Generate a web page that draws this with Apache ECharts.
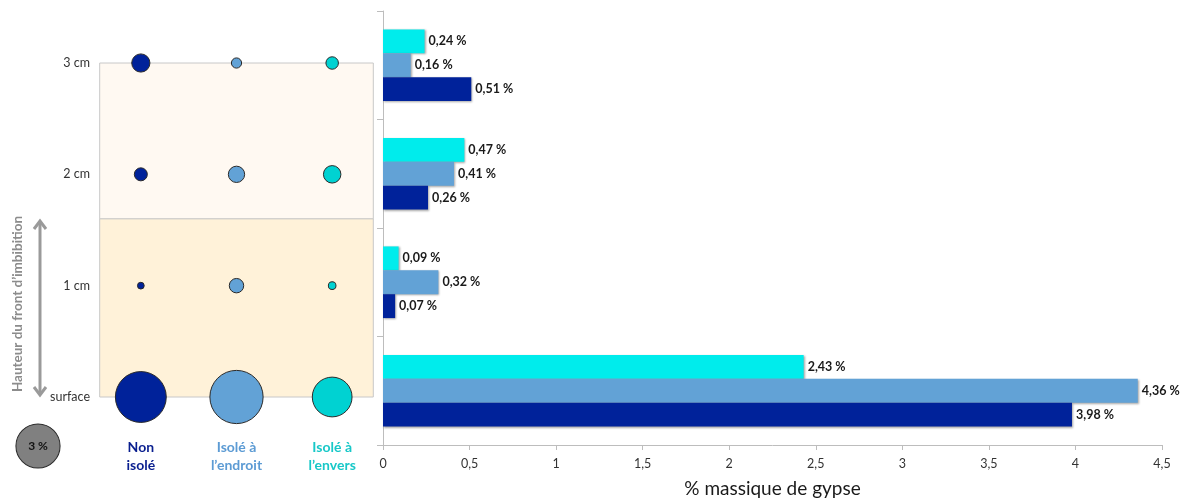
<!DOCTYPE html>
<html>
<head>
<meta charset="utf-8">
<script src="https://cdn.jsdelivr.net/npm/echarts@6/dist/echarts.min.js"></script>
<style>
  html, body { margin: 0; padding: 0; background: #fff; }
  #chart { width: 1186px; height: 503px; }
</style>
</head>
<body>
<div id="chart"></div>
<script>
// Imbibition front heights (bottom to top)
const heights = ['surface', '1 cm', '2 cm', '3 cm'];
// Sample configurations
const configs = ['Non\nisolé', 'Isolé à\nl’endroit', 'Isolé à\nl’envers'];
// Gypsum mass fraction (%) per height, one array per configuration
const nonIsole = [3.98, 0.07, 0.26, 0.51];
const isoleEndroit = [4.36, 0.32, 0.41, 0.16];
const isoleEnvers = [2.43, 0.09, 0.47, 0.24];
// Reference bubble for the size key
const keyValue = 3;
// Zone boundary between the two shaded bands (height units)
const zoneSplit = 1.6;

const FONT = 'Lato, "Open Sans", sans-serif';
const barColors = ['#00229A', '#62A2D6', '#00ECEC'];
const dotColors = ['#00229A', '#62A2D6', '#00D2D2'];
const labelColors = ['#0A1F8F', '#5C9BD4', '#18C8C8'];
const series3 = [nonIsole, isoleEndroit, isoleEnvers];

const bubbleSize = v => 25.5 * Math.sqrt(v);
const fmt = (v, d) => v.toFixed(d).replace('.', ',');

const chart = echarts.init(document.getElementById('chart'));

const series = [];

// Horizontal bars, one series per configuration (added last-first so the
// non-insulated bar sits at the bottom of each group)
[2, 1, 0].forEach(i => {
  series.push({
    type: 'bar',
    xAxisIndex: 0,
    yAxisIndex: 0,
    data: series3[i],
    barWidth: '22%',
    barGap: '0%',
    itemStyle: {
      color: barColors[i],
      shadowColor: 'rgba(0,0,0,0.35)',
      shadowBlur: 2,
      shadowOffsetX: 1,
      shadowOffsetY: 1
    },
    label: {
      show: true,
      position: 'right',
      distance: 4,
      fontFamily: FONT,
      fontWeight: 'bold',
      fontSize: 12.5,
      color: '#1a1a1a',
      formatter: p => fmt(p.value, 2) + ' %'
    },
    animation: false
  });
});

// Bubbles: one series per configuration on the left grid
series3.forEach((vals, i) => {
  series.push({
    type: 'scatter',
    xAxisIndex: 1,
    yAxisIndex: 1,
    data: vals.map((v, h) => [i + 0.5, h, v]),
    symbolSize: d => bubbleSize(d[2]),
    itemStyle: { color: dotColors[i], borderColor: '#2a2a2a', borderWidth: 1, opacity: 1 },
    z: 5,
    animation: false,
    markArea: i === 0 ? {
      silent: true,
      z: 1,
      data: [
        [{ xAxis: 0.07, yAxis: zoneSplit, itemStyle: { color: '#FFF9F2', borderColor: '#C8C8C8', borderWidth: 1 } },
         { xAxis: 2.93, yAxis: 3 }],
        [{ xAxis: 0.07, yAxis: 0, itemStyle: { color: '#FFF2D9', borderColor: '#C8C8C8', borderWidth: 1 } },
         { xAxis: 2.93, yAxis: zoneSplit }]
      ]
    } : undefined
  });
});

// Size key bubble
series.push({
  type: 'scatter',
  xAxisIndex: 2,
  yAxisIndex: 2,
  data: [[0, 0, keyValue]],
  symbolSize: d => bubbleSize(d[2]),
  itemStyle: { color: '#808080', borderColor: '#2a2a2a', borderWidth: 1, opacity: 1 },
  label: {
    show: true,
    position: 'inside',
    fontFamily: FONT,
    fontWeight: 'bold',
    fontSize: 12,
    color: '#111',
    formatter: d => d.value[2] + ' %'
  },
  animation: false
});

const option = {
  backgroundColor: '#ffffff',
  textStyle: { fontFamily: FONT },
  grid: [
    { left: 383, right: 24, top: 11, bottom: 58 },
    { left: 93, top: 63, width: 287, bottom: 106 },
    { left: 15, top: 423, width: 46, height: 46 }
  ],
  xAxis: [
    {
      gridIndex: 0,
      type: 'value',
      min: 0,
      max: 4.5,
      interval: 0.5,
      name: '% massique de gypse',
      nameLocation: 'middle',
      nameGap: 34,
      nameTextStyle: { fontFamily: FONT, fontSize: 19, color: '#1a1a1a' },
      axisLine: { show: true, lineStyle: { color: '#BDBDBD', width: 1 } },
      axisTick: { show: true, length: 5, lineStyle: { color: '#BDBDBD' } },
      splitLine: { show: false },
      axisLabel: {
        fontFamily: FONT, fontSize: 12.5, color: '#333', margin: 12,
        formatter: v => v === 0 ? '0' : fmt(v, Number.isInteger(v) ? 0 : 1)
      }
    },
    {
      gridIndex: 1,
      type: 'value',
      min: 0,
      max: 3,
      interval: 0.5,
      axisLine: { show: false },
      axisTick: { show: false },
      splitLine: { show: false },
      axisLabel: {
        margin: 41,
        fontFamily: FONT,
        fontSize: 14,
        fontWeight: 'bold',
        lineHeight: 18,
        color: v => labelColors[Math.min(2, Math.floor(v))],
        formatter: v => (v % 1 === 0.5) ? configs[Math.floor(v)] : ''
      }
    },
    { gridIndex: 2, type: 'value', min: -1, max: 1, show: false }
  ],
  yAxis: [
    {
      gridIndex: 0,
      type: 'category',
      data: heights,
      axisLine: { show: true, lineStyle: { color: '#BDBDBD', width: 1 } },
      axisTick: { show: true, length: 6, lineStyle: { color: '#BDBDBD' } },
      axisLabel: { show: false },
      splitLine: { show: false }
    },
    {
      gridIndex: 1,
      type: 'value',
      min: 0,
      max: 3,
      interval: 1,
      axisLine: { show: false },
      axisTick: { show: false },
      splitLine: { show: false },
      axisLabel: {
        margin: 3,
        fontFamily: FONT,
        fontSize: 12.5,
        color: '#333',
        formatter: v => heights[v]
      }
    },
    { gridIndex: 2, type: 'value', min: -1, max: 1, show: false }
  ],
  series: series,
  graphic: [
    // Double-headed arrow showing direction of height
    {
      type: 'line',
      shape: { x1: 40, y1: 222, x2: 40, y2: 394 },
      style: { stroke: '#9A9A9A', lineWidth: 3 },
      silent: true
    },
    {
      type: 'polyline',
      shape: { points: [[34, 229], [40, 221], [46, 229]] },
      style: { stroke: '#9A9A9A', lineWidth: 3, fill: null },
      silent: true
    },
    {
      type: 'polyline',
      shape: { points: [[34, 387], [40, 395], [46, 387]] },
      style: { stroke: '#9A9A9A', lineWidth: 3, fill: null },
      silent: true
    },
    {
      type: 'text',
      x: 18,
      y: 304,
      rotation: Math.PI / 2,
      style: {
        text: 'Hauteur du front d’imbibition',
        fontFamily: FONT,
        fontSize: 13.5,
        fontWeight: 'bold',
        fill: '#8C8C8C',
        align: 'center',
        verticalAlign: 'middle'
      },
      silent: true
    }
  ]
};

chart.setOption(option);
</script>
</body>
</html>
